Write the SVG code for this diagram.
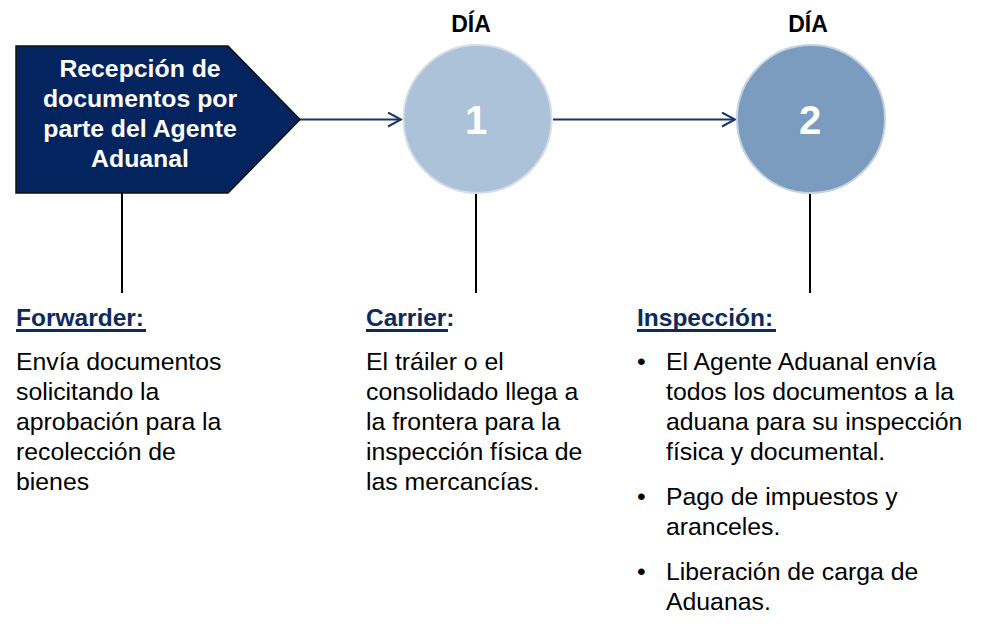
<svg xmlns="http://www.w3.org/2000/svg" width="998" height="631" viewBox="0 0 998 631">
<style>
  .title{font-family:"Liberation Sans",Arial,sans-serif;font-weight:bold;font-size:24.8px;fill:#ffffff;text-anchor:middle}
  .num{font-family:"Liberation Sans",Arial,sans-serif;font-weight:bold;font-size:40px;fill:#ffffff;text-anchor:middle}
  .dia{font-family:"Liberation Sans",Arial,sans-serif;font-weight:bold;font-size:23px;fill:#000000;text-anchor:middle}
  .head{font-family:"Liberation Sans",Arial,sans-serif;font-weight:bold;font-size:24.5px;fill:#0d2a5e}
  .body{font-family:"Liberation Sans",Arial,sans-serif;font-size:24.8px;fill:#000000}
  .ul{stroke:#0d2a5e;stroke-width:3}
  .arrow{stroke:#1b3569;stroke-width:2;fill:none}
  .stem{stroke:#000000;stroke-width:2}
</style>
<defs>
  <marker id="chev" viewBox="0 0 16 16" markerWidth="16" markerHeight="16" refX="14" refY="8" orient="auto" markerUnits="userSpaceOnUse">
    <path d="M1,1 L14,8 L1,15" fill="none" stroke="#1b3569" stroke-width="2"/>
  </marker>
</defs>
<rect width="998" height="631" fill="#ffffff"/>
<g id="connectors">
  <line class="arrow" x1="300" y1="119.5" x2="401" y2="119.5" marker-end="url(#chev)"/>
  <line class="arrow" x1="553" y1="119.5" x2="735" y2="119.5" marker-end="url(#chev)"/>
  <line class="stem" x1="122" y1="193" x2="122" y2="293"/>
  <line class="stem" x1="476" y1="193" x2="476" y2="293"/>
  <line class="stem" x1="810" y1="193" x2="810" y2="293"/>
</g>
<g id="node-recepcion">
  <polygon points="16,46 228,46 300,119.5 228,193 16,193" fill="#04245f" stroke="#111111" stroke-width="1.5"/>
  <text class="title" x="140" y="77">Recepción de</text>
  <text class="title" x="140" y="107">documentos por</text>
  <text class="title" x="140" y="137">parte del Agente</text>
  <text class="title" x="140" y="167">Aduanal</text>
</g>
<g id="node-dia1">
  <text class="dia" x="471" y="32">DÍA</text>
  <circle cx="477.5" cy="119" r="74" fill="#acc2d9" stroke="#d4dde8" stroke-width="2"/>
  <text class="num" x="476" y="134">1</text>
</g>
<g id="node-dia2">
  <text class="dia" x="808" y="32">DÍA</text>
  <circle cx="811" cy="119" r="74" fill="#7b9cbf" stroke="#c5d2e0" stroke-width="2"/>
  <text class="num" x="810" y="134">2</text>
</g>
<g id="node-forwarder">
  <text class="head" x="16" y="326">Forwarder:</text>
  <line class="ul" x1="16" y1="330.5" x2="146" y2="330.5"/>
  <text class="body" x="16" y="370">Envía documentos</text>
  <text class="body" x="16" y="400">solicitando la</text>
  <text class="body" x="16" y="430">aprobación para la</text>
  <text class="body" x="16" y="460">recolección de</text>
  <text class="body" x="16" y="490">bienes</text>
</g>
<g id="node-carrier">
  <text class="head" x="366" y="326">Carrier<tspan>:</tspan></text>
  <line class="ul" x1="366" y1="330.5" x2="448" y2="330.5"/>
  <text class="body" x="366" y="370">El tráiler o el</text>
  <text class="body" x="366" y="400">consolidado llega a</text>
  <text class="body" x="366" y="430">la frontera para la</text>
  <text class="body" x="366" y="460">inspección física de</text>
  <text class="body" x="366" y="490">las mercancías.</text>
</g>
<g id="node-inspeccion">
  <text class="head" x="637" y="326">Inspección:</text>
  <line class="ul" x1="637" y1="330.5" x2="776" y2="330.5"/>
  <text class="body" x="637" y="370">•</text>
  <text class="body" x="666" y="370">El Agente Aduanal envía</text>
  <text class="body" x="666" y="400">todos los documentos a la</text>
  <text class="body" x="666" y="430">aduana para su inspección</text>
  <text class="body" x="666" y="460">física y documental.</text>
  <text class="body" x="637" y="505">•</text>
  <text class="body" x="666" y="505">Pago de impuestos y</text>
  <text class="body" x="666" y="535">aranceles.</text>
  <text class="body" x="637" y="580">•</text>
  <text class="body" x="666" y="580">Liberación de carga de</text>
  <text class="body" x="666" y="610">Aduanas.</text>
</g>
</svg>
